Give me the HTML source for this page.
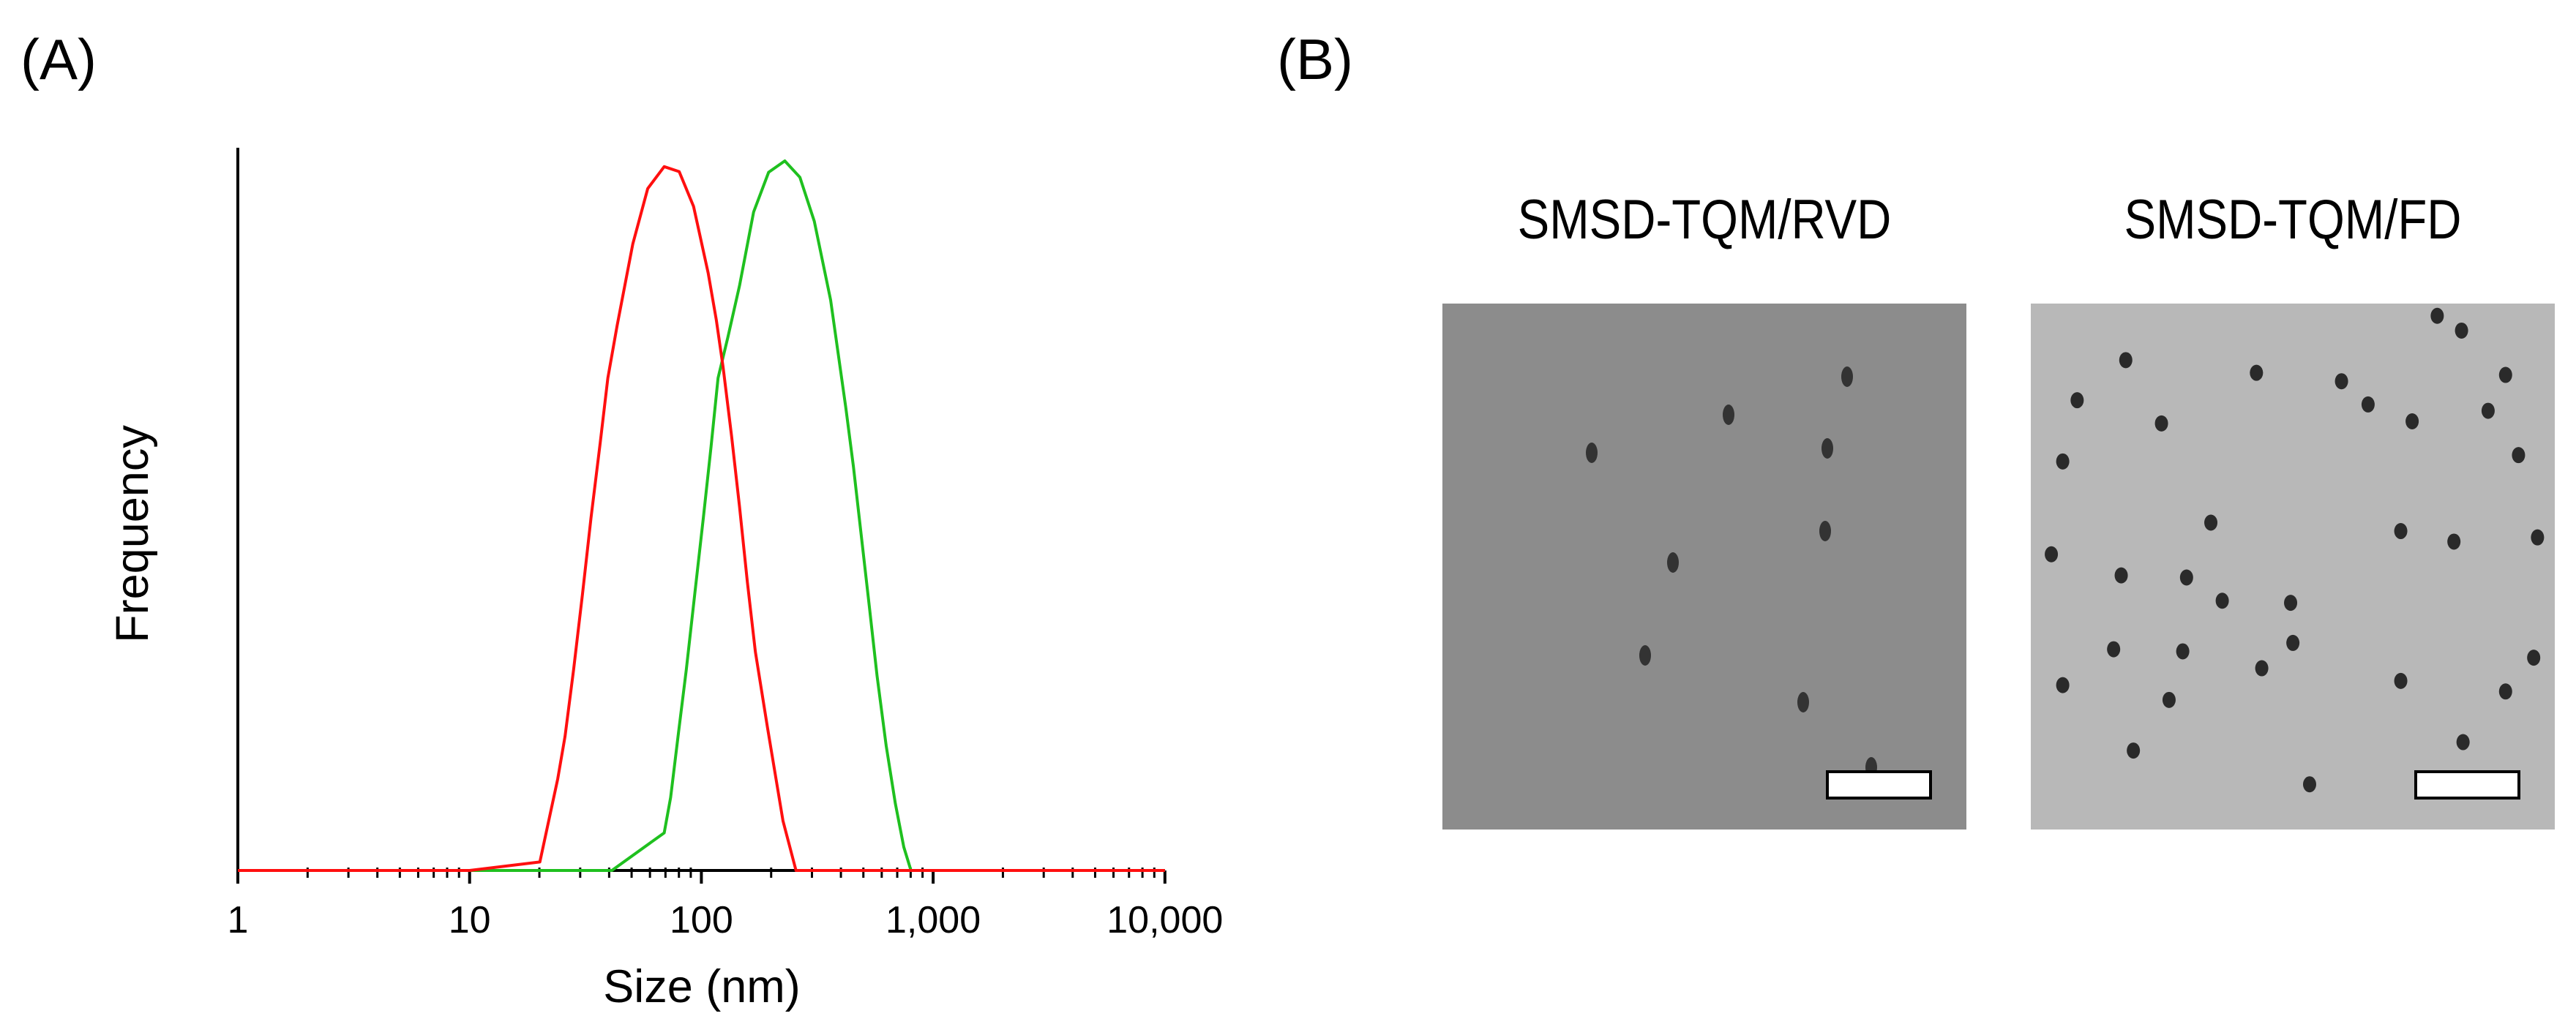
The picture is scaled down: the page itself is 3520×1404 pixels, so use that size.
<!DOCTYPE html>
<html><head><meta charset="utf-8"><style>
html,body{margin:0;padding:0;background:#fff;}
svg{display:block;font-family:"Liberation Sans",Arial,sans-serif;}
</style></head><body>
<svg id="fig" width="3520" height="1404" viewBox="0 0 3520 1404">
<text x="28" y="108" font-size="78">(A)</text>
<text x="1745" y="108" font-size="78">(B)</text>
<g id="chart"></g>
<text x="959" y="1370" font-size="63" text-anchor="middle">Size (nm)</text>
<text transform="translate(202,730) rotate(-90)" font-size="63" text-anchor="middle">Frequency</text>
<g id="tem"></g>
</svg>
<script>
const xTicks=[1,10,100,1000,10000];
const xTickLabels=["1","10","100","1,000","10,000"];
const redSizes=[1,10,20.1,24.0,25.8,28.1,30.7,33.4,36.6,39.5,43.3,50.6,58.7,69.1,80.2,92.5,107,116,124,135,146,158,171,193,225,256,10000];
const redFreq=[0,0,1.2,12.9,18.9,28.3,39.0,49.7,60.3,69.4,76.8,88.3,96.1,99.2,98.5,93.6,84.2,77.6,71.0,61.2,51.3,40.6,30.8,20.1,7.0,0,0];
const greenSizes=[7.6,41.1,69.1,73.7,79.6,86.1,93.7,102,110,118,130,146,168,195,229,266,307,361,420,453,490,530,573,627,687,747,802,10000];
const greenFreq=[0,0,5.3,10.3,19.3,28.3,39.0,49.7,59.6,69.4,75.1,82.4,92.8,98.4,100,97.7,91.5,80.4,65.2,56.9,47.1,37.3,27.4,17.6,9.4,3.3,0,0];
const NS='http://www.w3.org/2000/svg';
const X0=325,DEC=316.7,Y0=1190,YS=9.7;
function xs(v){return X0+Math.log10(v)*DEC;}
function ys(v){return Y0-v*YS;}
function mk(tag,attrs,parent){const e=document.createElementNS(NS,tag);for(const k in attrs)e.setAttribute(k,attrs[k]);parent.appendChild(e);return e;}
const g=document.getElementById('chart');
let yAx=mk('line',{x1:X0,y1:202,x2:X0,y2:1190,stroke:'#000','stroke-width':4},g);


let xAx=mk('line',{x1:X0,y1:Y0,x2:xs(10000),y2:Y0,stroke:'#000','stroke-width':4},g);


for(let d=0;d<4;d++){for(let m=2;m<10;m++){const v=Math.pow(10,d)*m;
 let t=mk('line',{x1:xs(v),y1:Y0-4,x2:xs(v),y2:Y0+10,stroke:'#000','stroke-width':3},g);
 
 }}
xTicks.forEach((v,i)=>{
 let t=mk('line',{x1:xs(v),y1:Y0,x2:xs(v),y2:Y0+18,stroke:'#000','stroke-width':4},g);
 
 
 let l=mk('text',{x:xs(v),y:1275,'font-size':52,'text-anchor':'middle'},g);
 l.textContent=xTickLabels[i];
 
 
});
function line(sz,fr,col,name){
 const pts=sz.map((s,i)=>xs(s).toFixed(1)+','+ys(fr[i]).toFixed(1)).join(' ');
 let p=mk('polyline',{points:pts,fill:'none',stroke:col,'stroke-width':4,'stroke-linejoin':'round'},g);
 
 
}
line(greenSizes,greenFreq,'#1fc01f','series-fd-line');
line(redSizes,redFreq,'#ff0f0f','series-rvd-line');

const tem=document.getElementById('tem');
const panels=[{x:1971,fill:'#8c8c8c',title:'SMSD-TQM/RVD',cx:2329},{x:2775,fill:'#b8b8b8',title:'SMSD-TQM/FD',cx:3133}];
const leftDots=[[2524,515],[2362,567],[2175,619],[2497,613],[2494,726],[2286,769],[2248,896],[2464,960],[2557,1049]];
const rightZ=[[968,420],[1140,450],[1252,470],[904,515],[1287,525],[1015,570],[1345,565],[1445,540],[1468,455],[1485,645],[885,660],[1378,315],[1410,350],[1080,805],[1330,825],[1510,840],[870,880],[962,930],[1048,935],[1095,990],[1185,995],[1188,1090],[952,1105],[1043,1110],[1147,1150],[1505,1125],[1330,1180],[1468,1205],[1025,1225],[1412,1325],[978,1345],[1210,1425],[1400,850],[885,1190]];
const rightDots=rightZ.map(p=>[1900+p[0]*1.038,250+p[1]*0.577]);
panels.forEach((p,i)=>{
 let r=mk('rect',{x:p.x,y:415,width:716,height:719,fill:p.fill},tem);
 
 
 let t=mk('text',{x:p.cx,y:326,'font-size':76,'text-anchor':'middle',transform:`translate(${p.cx},0) scale(0.86,1) translate(${-p.cx},0)`},tem);
 t.textContent=p.title;
 
 
 (i?rightDots:leftDots).forEach(d=>{
  let c=mk('ellipse',{cx:d[0],cy:d[1],rx:i?9:8,ry:i?11:14,fill:i?'#2a2a2a':'#333'},tem);
  
  
 });
 let sb=mk('rect',{x:p.x+526,y:1055,width:141,height:36,fill:'#fff',stroke:'#000','stroke-width':4},tem);
 
 
});
</script>
</body></html>
